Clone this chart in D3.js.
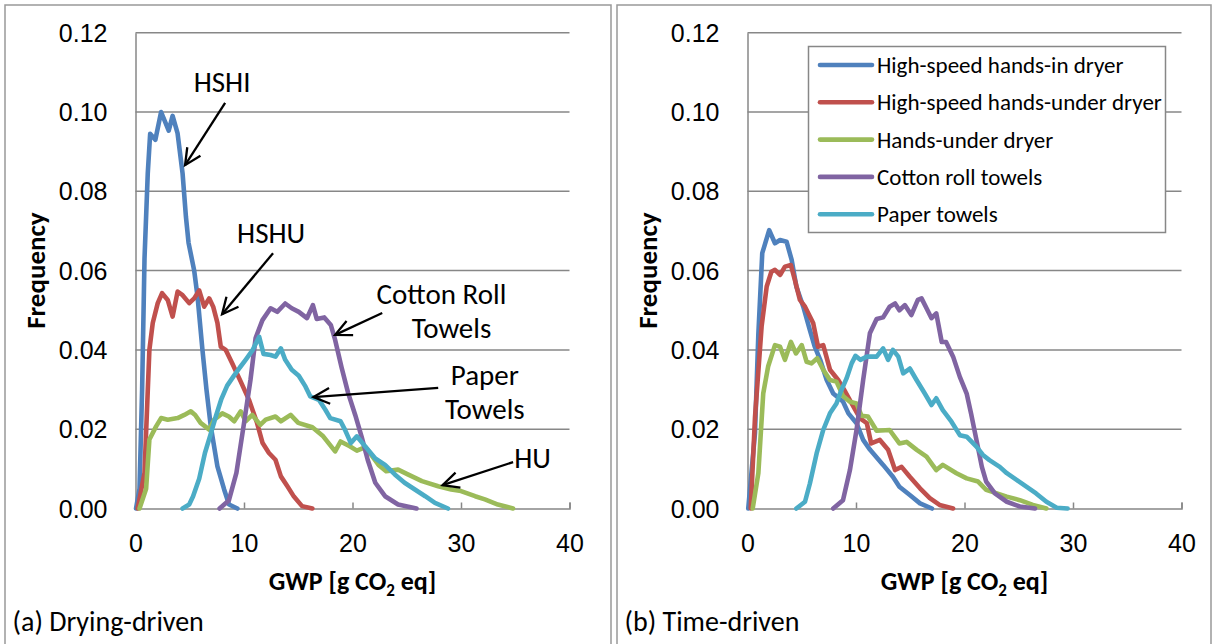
<!DOCTYPE html>
<html>
<head>
<meta charset="utf-8">
<script src="https://cdn.jsdelivr.net/npm/d3@7"></script>
<style>
  body { margin: 0; background: #fff; }
  svg { display: block; font-family: Carlito, Lato, sans-serif; }
</style>
</head>
<body>
<svg id="chart" width="1216" height="644"></svg>
<script>
// GWP [g CO2 eq] vs frequency
const dryHSHI = [[0.05,0],[0.37,0.005],[0.61,0.030],[0.83,0.063],[1.13,0.0845],[1.35,0.0945],[1.83,0.093],[2.36,0.100],[3.06,0.0953],[3.42,0.099],[3.88,0.0946],[4.34,0.0845],[4.65,0.0735],[4.89,0.067],[5.41,0.060],[5.72,0.0534],[6.17,0.040],[6.54,0.030],[6.94,0.0207],[7.55,0.0106],[8.17,0.0048],[8.62,0.001],[9.39,0]];
const dryHSHU = [[0.2,0],[0.83,0.009],[1.28,0.040],[1.59,0.0468],[2.05,0.0518],[2.45,0.0543],[2.97,0.0526],[3.42,0.0484],[3.88,0.0547],[4.34,0.0538],[4.95,0.0518],[5.41,0.053],[5.87,0.055],[6.33,0.0509],[6.79,0.053],[7.16,0.0509],[7.55,0.0468],[7.86,0.0408],[8.32,0.040],[8.9,0.0367],[9.7,0.032],[10.46,0.0274],[11.2,0.0216],[11.7,0.0166],[12.3,0.014],[12.9,0.0123],[13.4,0.0081],[14.0,0.0056],[14.6,0.003],[15.35,0.0006],[16.3,0]];
const dryHU = [[0.37,0],[0.98,0.005],[1.28,0.0174],[1.9,0.0207],[2.36,0.0228],[2.97,0.0224],[3.88,0.0228],[4.5,0.0236],[5.1,0.0245],[5.5,0.0236],[6.0,0.0216],[6.8,0.0199],[7.25,0.0224],[8.0,0.024],[8.6,0.0232],[9.1,0.022],[9.7,0.0245],[10.15,0.022],[10.76,0.0236],[11.5,0.0211],[12.0,0.0224],[12.9,0.0232],[13.4,0.022],[14.3,0.0236],[15.0,0.0216],[16.3,0.0205],[17.3,0.0182],[18.4,0.0144],[18.9,0.0169],[19.75,0.0157],[20.4,0.0146],[21.2,0.0155],[22.4,0.011],[23.1,0.0094],[24.2,0.0098],[25.1,0.0086],[26.4,0.0069],[27.9,0.0056],[29.1,0.0048],[30.0,0.0044],[31.3,0.0031],[32.2,0.0023],[33.4,0.001],[34.8,0]];
const dryCotton = [[7.75,0],[8.6,0.002],[9.3,0.009],[10.0,0.0215],[10.6,0.0325],[11.07,0.043],[11.7,0.0475],[12.45,0.0505],[13.06,0.0496],[13.8,0.0517],[14.4,0.0505],[15.05,0.0496],[15.8,0.048],[16.35,0.0513],[16.7,0.0478],[17.4,0.0482],[18.0,0.0463],[18.4,0.0425],[19.0,0.0355],[19.6,0.0291],[20.25,0.0236],[20.85,0.018],[21.4,0.0123],[22.1,0.0065],[23.0,0.0031],[24.2,0.001],[25.9,0]];
const dryPaper = [[4.34,0],[4.95,0.001],[5.3,0.003],[5.87,0.0075],[6.4,0.014],[6.9,0.0185],[7.4,0.0232],[7.9,0.0275],[8.45,0.031],[9.08,0.0335],[9.6,0.0355],[10.15,0.0375],[10.76,0.0398],[11.4,0.0433],[11.8,0.039],[12.45,0.0387],[12.9,0.0383],[13.4,0.0404],[13.8,0.0375],[14.4,0.035],[15.05,0.0335],[15.66,0.0308],[16.1,0.0283],[16.9,0.0274],[17.5,0.0249],[17.95,0.0228],[18.9,0.022],[19.3,0.0199],[19.85,0.0165],[20.4,0.0182],[21.1,0.0159],[22.1,0.0126],[23.0,0.011],[23.9,0.0086],[24.8,0.0065],[25.75,0.0048],[26.7,0.0031],[27.6,0.0014],[28.8,0]];

const timeHSHI = [[0.07,0],[0.69,0.019],[1.0,0.044],[1.36,0.0644],[2.0,0.0702],[2.53,0.0669],[3.0,0.0677],[3.6,0.0673],[4.07,0.0627],[4.5,0.056],[5.14,0.0509],[5.75,0.045],[6.2,0.0408],[6.7,0.0375],[7.3,0.0324],[7.9,0.029],[8.8,0.027],[9.3,0.024],[10.05,0.0215],[10.66,0.0173],[11.3,0.0148],[12.5,0.011],[13.4,0.008],[14.0,0.0055],[14.96,0.0034],[15.9,0.0013],[17.0,0]];
const timeHSHU = [[0.3,0],[0.69,0.023],[1.3,0.0459],[1.77,0.056],[2.2,0.0597],[2.53,0.0602],[3.0,0.0589],[3.45,0.061],[4.0,0.0614],[4.37,0.0576],[4.83,0.0526],[5.3,0.0509],[5.75,0.0484],[6.06,0.0467],[6.5,0.0408],[6.98,0.0412],[7.6,0.035],[8.36,0.0324],[9.0,0.0295],[9.6,0.0265],[10.36,0.0228],[11.0,0.0215],[11.4,0.0164],[12.2,0.0173],[12.96,0.0148],[13.6,0.0097],[14.2,0.0105],[14.96,0.008],[15.9,0.0051],[16.8,0.0026],[17.7,0.0009],[18.95,0]];
const timeHU = [[0.48,0],[1.0,0.0089],[1.45,0.029],[1.9,0.0358],[2.53,0.0412],[3.0,0.0408],[3.45,0.0375],[4.0,0.042],[4.47,0.0391],[5.0,0.0412],[5.45,0.037],[5.9,0.0366],[6.43,0.0379],[6.98,0.035],[7.6,0.0324],[8.2,0.032],[8.8,0.0284],[9.44,0.0269],[10.05,0.0265],[10.5,0.0234],[11.1,0.0232],[11.9,0.0196],[13.1,0.0198],[14.0,0.0164],[14.66,0.0168],[15.6,0.0148],[16.5,0.0131],[17.4,0.0097],[18.0,0.011],[19.26,0.0089],[20.2,0.0076],[21.25,0.0068],[22.0,0.0047],[23.9,0.003],[25.1,0.0021],[26.3,0.0009],[27.55,0]];
const timeCotton = [[7.9,0],[8.8,0.0021],[9.44,0.0097],[10.05,0.0198],[10.66,0.0324],[11.28,0.0442],[11.9,0.0478],[12.5,0.0482],[13.1,0.0509],[13.6,0.0517],[14.0,0.050],[14.5,0.0513],[15.1,0.0488],[15.7,0.0526],[16.04,0.053],[16.5,0.0505],[16.96,0.048],[17.4,0.0492],[17.9,0.042],[18.3,0.042],[18.95,0.0383],[19.57,0.0332],[20.2,0.029],[20.6,0.024],[21.1,0.0173],[21.6,0.0105],[22.0,0.0068],[22.8,0.0038],[23.9,0.0017],[25.1,0.0005],[26.5,0]];
const timePaper = [[4.5,0],[5.3,0.0017],[5.75,0.0063],[6.37,0.0139],[6.98,0.0198],[7.6,0.024],[8.2,0.0265],[8.6,0.0295],[9.13,0.0328],[9.6,0.0366],[9.95,0.0385],[10.4,0.0375],[11.0,0.0383],[11.9,0.0383],[12.5,0.0404],[12.96,0.0375],[13.4,0.040],[13.9,0.0383],[14.35,0.0341],[14.96,0.0353],[15.58,0.0324],[16.34,0.029],[16.96,0.0261],[17.4,0.0278],[18.0,0.0248],[18.8,0.0219],[19.57,0.0185],[20.2,0.0181],[21.1,0.0156],[21.7,0.0135],[22.3,0.0122],[23.25,0.0105],[23.9,0.0089],[24.8,0.0072],[25.7,0.0055],[26.6,0.0038],[27.55,0.0017],[28.5,0.0002],[29.5,0]];

const seriesNames = ['High-speed hands-in dryer', 'High-speed hands-under dryer', 'Hands-under dryer', 'Cotton roll towels', 'Paper towels'];
const seriesColors = ['#4f81bd', '#c0504d', '#9bbb59', '#8064a2', '#4bacc6'];
const xTicks = [0, 10, 20, 30, 40];
const yTicks = [0, 0.02, 0.04, 0.06, 0.08, 0.10, 0.12];

// labels on panel (a): text centre at [gwp, freq], arrow from -> to
const notes = [
  { lines: ['HSHI'], at: [7.98, 0.1076], from: [8.26, 0.1023], to: [4.57, 0.0866] },
  { lines: ['HSHU'], at: [12.5, 0.0695], from: [12.68, 0.0644], to: [7.98, 0.049] },
  { lines: ['Cotton Roll', 'Towels'], at: [28.2, 0.0541], from: [22.74, 0.0493], to: [18.4, 0.0438] },
  { lines: ['Paper', 'Towels'], at: [32.2, 0.0337], from: [27.9, 0.0304], to: [16.4, 0.0281] },
  { lines: ['HU'], at: [36.6, 0.0127], from: [34.8, 0.0117], to: [28.3, 0.0059] }
];

const svg = d3.select('#chart');
const grid = '#878787';

// panel frames
svg.append('path')
  .attr('d', 'M5,644V5H611V644')
  .attr('fill', 'none').attr('stroke', '#999').attr('stroke-width', 1.5);
svg.append('path')
  .attr('d', 'M617,644V5H1211V644')
  .attr('fill', 'none').attr('stroke', '#999').attr('stroke-width', 1.5);

function drawPanel(left, series, caption) {
  const x = d3.scaleLinear().domain([0, 40]).range([left, left + 434]);
  const y = d3.scaleLinear().domain([0, 0.12]).range([508.5, 32.7]);
  const g = svg.append('g');

  g.selectAll('line.grid')
    .data(yTicks.filter(d => d > 0))
    .join('line')
    .attr('x1', x(0)).attr('x2', x(40))
    .attr('y1', d => y(d)).attr('y2', d => y(d))
    .attr('stroke', grid).attr('stroke-width', 1.5);

  const xAxis = g.append('g')
    .attr('transform', `translate(0,${y(0)})`)
    .call(d3.axisBottom(x).tickValues(xTicks).tickSize(-6).tickPadding(26).tickFormat(d3.format('d')));
  const yAxis = g.append('g')
    .attr('transform', `translate(${x(0)},0)`)
    .call(d3.axisLeft(y).tickValues(yTicks).tickSize(0).tickPadding(28).tickFormat(d3.format('.2f')));
  [xAxis, yAxis].forEach(a => {
    a.select('.domain').attr('stroke', grid).attr('stroke-width', 1.5);
    a.selectAll('.tick line').attr('stroke', grid).attr('stroke-width', 1.5);
    a.selectAll('text').attr('font-size', 25).attr('fill', '#000').attr('font-family', null);
  });
  yAxis.selectAll('text').attr('dy', '0.34em');

  const line = d3.line().x(d => x(d[0])).y(d => y(d[1]));
  series.forEach((s, i) => {
    g.append('path')
      .attr('d', line(s))
      .attr('fill', 'none')
      .attr('stroke', seriesColors[i])
      .attr('stroke-width', 4.6)
      .attr('stroke-linejoin', 'round')
      .attr('stroke-linecap', 'round');
  });

  g.append('text')
    .attr('transform', `translate(${left - 100},${y(0.06)}) rotate(-90)`)
    .attr('text-anchor', 'middle').attr('dy', '0.35em')
    .attr('font-size', 27).attr('font-weight', 'bold')
    .text('Frequency');

  const t = g.append('text')
    .attr('x', x(20)).attr('y', 590)
    .attr('text-anchor', 'middle')
    .attr('font-size', 26).attr('font-weight', 'bold');
  t.append('tspan').text('GWP [g CO');
  t.append('tspan').attr('font-size', 17).attr('dy', 6).text('2');
  t.append('tspan').attr('dy', -6).text(' eq]');

  g.append('text')
    .attr('x', left - 123).attr('y', 631)
    .attr('font-size', 28)
    .text(caption);

  return { g, x, y };
}

const a = drawPanel(135.5, [dryHSHI, dryHSHU, dryHU, dryCotton, dryPaper], '(a) Drying-driven');
const b = drawPanel(747.5, [timeHSHI, timeHSHU, timeHU, timeCotton, timePaper], '(b) Time-driven');

// arrows with open heads
function arrow(g, x1, y1, x2, y2) {
  const ang = Math.atan2(y2 - y1, x2 - x1);
  const len = 18, spread = 0.45;
  g.append('line')
    .attr('x1', x1).attr('y1', y1).attr('x2', x2).attr('y2', y2)
    .attr('stroke', '#000').attr('stroke-width', 2.3);
  g.append('path')
    .attr('d', `M${x2 - len * Math.cos(ang - spread)},${y2 - len * Math.sin(ang - spread)}L${x2},${y2}L${x2 - len * Math.cos(ang + spread)},${y2 - len * Math.sin(ang + spread)}`)
    .attr('fill', 'none').attr('stroke', '#000').attr('stroke-width', 2.3);
}

notes.forEach(n => {
  arrow(a.g, a.x(n.from[0]), a.y(n.from[1]), a.x(n.to[0]), a.y(n.to[1]));
  const txt = a.g.append('text')
    .attr('x', a.x(n.at[0])).attr('y', a.y(n.at[1]))
    .attr('text-anchor', 'middle')
    .attr('font-size', 29);
  n.lines.forEach((l, i) => {
    txt.append('tspan')
      .attr('x', a.x(n.at[0]) + (i > 0 && n.lines[0] === 'Cotton Roll' ? 10 : 0))
      .attr('dy', i === 0 ? '0.35em' : 34)
      .text(l);
  });
});

// legend on panel (b)
const lg = b.g.append('g');
lg.append('rect')
  .attr('x', 808.5).attr('y', 46.5).attr('width', 357).attr('height', 186)
  .attr('fill', '#fff').attr('stroke', grid).attr('stroke-width', 1.5);
seriesNames.forEach((name, i) => {
  const yy = 65 + i * 37.3;
  lg.append('line')
    .attr('x1', 820).attr('x2', 872).attr('y1', yy).attr('y2', yy)
    .attr('stroke', seriesColors[i]).attr('stroke-width', 4.6).attr('stroke-linecap', 'round');
  lg.append('text')
    .attr('x', 877).attr('y', yy).attr('dy', '0.35em')
    .attr('font-size', 23)
    .text(name);
});
</script>
</body>
</html>
